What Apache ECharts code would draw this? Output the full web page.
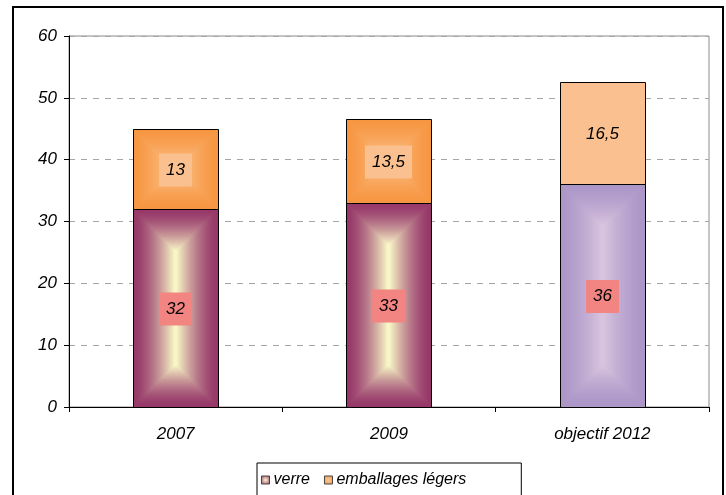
<!DOCTYPE html>
<html>
<head>
<meta charset="utf-8">
<script src="https://cdn.jsdelivr.net/npm/echarts@6/dist/echarts.min.js"></script>
<style>html,body{margin:0;padding:0;background:#fff;}#c{width:726px;height:495px;}</style>
</head>
<body>
<div id="c"></div>
<script>
const categories = ['2007', '2009', 'objectif 2012'];
const verre = [32, 33, 36];
const emballages = [13, 13.5, 16.5];
const yTicks = [0, 10, 20, 30, 40, 50, 60];

const verreEdge = [[150, 55, 105], [150, 55, 105], [172, 150, 200]];
const verreCenter = [[248, 246, 198], [248, 246, 198], [216, 196, 222]];
const embEdge = [[247, 150, 66], [247, 150, 66], [250, 192, 144]];
const embCenter = [[251, 200, 150], [251, 200, 150], [250, 192, 144]];

function mix(a, b, t) {
  return 'rgb(' + a.map((v, i) => Math.round(v + (b[i] - v) * t)).join(',') + ')';
}
function fmt(v) { return String(v).replace('.', ','); }

function makeRender(edge, center, labelBg) {
  return function (params, api) {
    const ci = api.value(0), base = api.value(1), val = api.value(2);
    const pb = api.coord([ci, base]);
    const pt = api.coord([ci, base + val]);
    const bw = api.size([1, 0])[0] * 0.4;
    const x = Math.round(pb[0] - bw / 2), y = Math.round(pt[1]);
    const w = Math.round(bw), h = Math.round(pb[1]) - y;
    const e = edge[ci], c = center[ci];
    const children = [];
    const n = Math.floor(Math.min(w, h) / 2);
    for (let i = 0; i < n; i++) {
      const t = n > 1 ? Math.pow(i / (n - 1), 1.5) : 1;
      children.push({ type: 'rect', shape: { x: x + i, y: y + i, width: w - 2 * i, height: h - 2 * i },
        style: { fill: mix(e, c, t) } });
    }
    children.push({ type: 'rect', shape: { x: x + 0.5, y: y + 0.5, width: w, height: h },
      style: { fill: 'none', stroke: '#000', lineWidth: 1 } });
    children.push({ type: 'text', style: {
      text: fmt(val), x: x + w / 2, y: y + h / 2 + 1, align: 'center', verticalAlign: 'middle',
      font: 'italic 17px "Liberation Sans", Arial, sans-serif', fill: '#000',
      backgroundColor: labelBg, padding: [8, 7, 8, 7] } });
    return { type: 'group', children: children };
  };
}

const verreData = categories.map((c, i) => [i, 0, verre[i]]);
const embData = categories.map((c, i) => [i, verre[i], emballages[i]]);

const font = '"Liberation Sans", Arial, sans-serif';
const chart = echarts.init(document.getElementById('c'), null, { renderer: 'canvas' });
chart.setOption({
  animation: false,
  backgroundColor: '#fff',
  graphic: [{ type: 'rect', shape: { x: 13, y: 7, width: 710, height: 500 },
    style: { fill: 'none', stroke: '#000', lineWidth: 2 }, z: 100 }],
  grid: { left: 69, right: 17, top: 36, bottom: 88, show: true, borderColor: '#8c8c8c', borderWidth: 1, backgroundColor: '#fff' },
  legend: {
    left: 257, top: 463, padding: [9, 55, 12, 4], itemWidth: 8, itemHeight: 8, itemGap: 14,
    borderColor: '#000', borderWidth: 1, backgroundColor: '#fff',
    textStyle: { fontFamily: font, fontStyle: 'italic', fontSize: 16, color: '#000', padding: [0, 0, 0, -1] },
    data: [
      { name: 'verre', icon: 'rect', itemStyle: { color: { type: 'radial', x: 0.5, y: 0.5, r: 0.7, colorStops: [{ offset: 0, color: '#f8f6c6' }, { offset: 1, color: '#96376a' }] }, borderColor: '#444', borderWidth: 1 } },
      { name: 'emballages légers', icon: 'rect', itemStyle: { color: { type: 'radial', x: 0.5, y: 0.5, r: 0.7, colorStops: [{ offset: 0, color: '#fbc896' }, { offset: 1, color: '#f79642' }] }, borderColor: '#444', borderWidth: 1 } }
    ]
  },
  xAxis: {
    type: 'category', data: categories,
    axisLine: { lineStyle: { color: '#000', width: 1 } },
    axisTick: { show: true, length: 5, lineStyle: { color: '#000' } },
    axisLabel: { fontFamily: font, fontStyle: 'italic', fontSize: 17, color: '#000', margin: 19 },
    splitLine: { show: false }
  },
  yAxis: {
    type: 'value', min: yTicks[0], max: yTicks[yTicks.length - 1], interval: 10,
    axisLine: { show: true, lineStyle: { color: '#000', width: 1 } },
    axisTick: { show: true, length: 5, lineStyle: { color: '#000' } },
    axisLabel: { fontFamily: font, fontStyle: 'italic', fontSize: 17, color: '#000', margin: 12 },
    splitLine: { show: true, lineStyle: { color: '#a6a6a6', type: [6, 6], width: 1 } }
  },
  series: [
    { name: 'verre', type: 'custom', data: verreData, encode: { x: 0, y: [1, 2] },
      itemStyle: { color: '#96376a' }, renderItem: makeRender(verreEdge, verreCenter, '#f28482') },
    { name: 'emballages légers', type: 'custom', data: embData, encode: { x: 0, y: [1, 2] },
      itemStyle: { color: '#f79642' }, renderItem: makeRender(embEdge, embCenter, '#fac090') }
  ]
});
</script>
</body>
</html>
